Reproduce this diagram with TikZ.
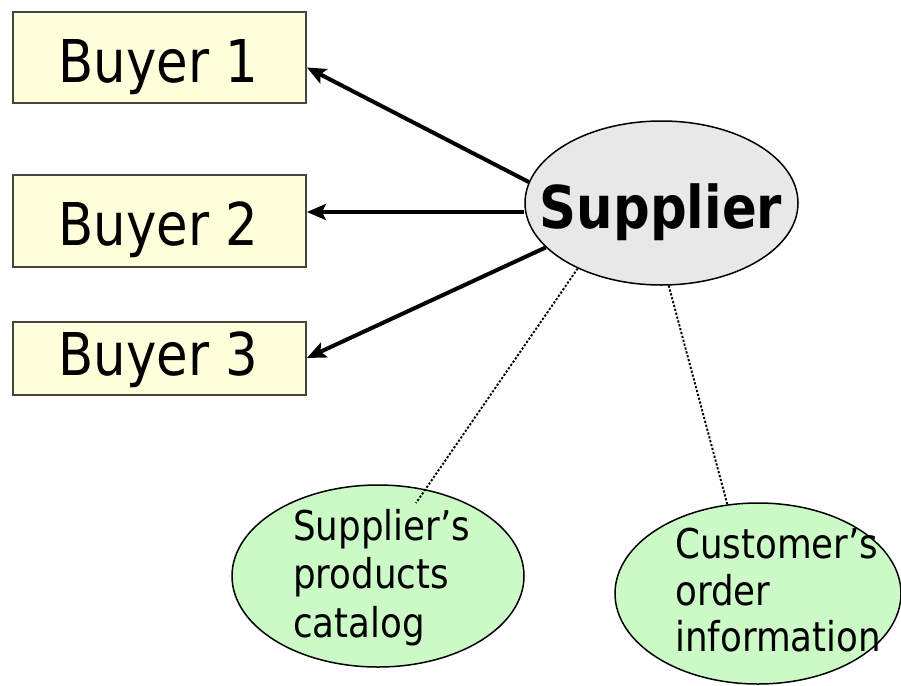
\documentclass[tikz,border=0pt]{standalone}
\usepackage{fontspec}
\setmainfont{DejaVu Sans}[FakeStretch=0.87]
\usetikzlibrary{arrows.meta,shapes.geometric}
\definecolor{buyerfill}{RGB}{255,255,220}
\definecolor{buyerdraw}{RGB}{70,70,60}
\definecolor{supfill}{RGB}{232,232,232}
\definecolor{greenfill}{RGB}{204,250,198}
\begin{document}
\begin{tikzpicture}[x=1pt,y=-1pt,
  buyerbox/.style={draw=buyerdraw,fill=buyerfill,line width=1.8pt,rectangle,inner sep=0pt,minimum width=293pt},
  buyertext/.style={anchor=base,inner sep=0pt,font=\fontsize{59}{60}\selectfont},
  supnode/.style={draw=black,fill=supfill,line width=1.5pt,ellipse,inner sep=0pt,minimum width=273pt,minimum height=164pt},
  greennode/.style={draw=black,fill=greenfill,line width=1.5pt,ellipse,inner sep=0pt},
  greentext/.style={anchor=base west,inner sep=0pt,font=\fontsize{41}{47}\selectfont},
  feed/.style={line width=4pt,-{Stealth[length=19pt,width=16pt,inset=4pt]}},
  dotline/.style={line width=1.9pt,dash pattern=on 2.2pt off 1.8pt}]
\useasboundingbox (0,0) rectangle (901,685);
% buyer boxes
\node[buyerbox,minimum height=91pt] (b1) at (159.5,57.5) {};
\node[buyerbox,minimum height=92pt] (b2) at (159.5,221) {};
\node[buyerbox,minimum height=73pt] (b3) at (159.5,358.5) {};
\node[buyertext] (b1t) at (158.5,82) {Buyer 1};
\node[buyertext] (b2t) at (158.5,245) {Buyer 2};
\node[buyertext] (b3t) at (158.5,375) {Buyer 3};
% supplier
\node[supnode] (sup) at (661.5,203) {};
\node[anchor=base,inner sep=0pt,font=\fontsize{59}{60}\selectfont\bfseries] (supt) at (661,228) {Supplier};
% green ellipses
\node[greennode,minimum width=292pt,minimum height=182pt] (cat) at (378,576) {};
\node[greennode,minimum width=286pt,minimum height=181pt] (cust) at (758,593.5) {};
\node[greentext] (ct1) at (293,540) {Supplier’s};
\node[greentext] (ct2) at (293,588) {products};
\node[greentext] (ct3) at (293,637) {catalog};
\node[greentext] (cu1) at (675,558) {Customer’s};
\node[greentext] (cu2) at (675,605) {order};
\node[greentext] (cu3) at (675,651) {information};
% arrows
\draw[feed] (sup.171.5) -- ([yshift=-10pt]b1.east);
\draw[feed] ([yshift=-9pt]sup.west) -- ([yshift=9pt]b2.east);
\draw[feed] (sup.201) -- ([yshift=0.5pt]b3.east);
% dotted connectors
\coordinate (e1) at (416,503);
\draw[dotline] (sup.218.6) -- (e1);
\draw[dotline] (sup.275) -- (cust.109);
\end{tikzpicture}
\end{document}
